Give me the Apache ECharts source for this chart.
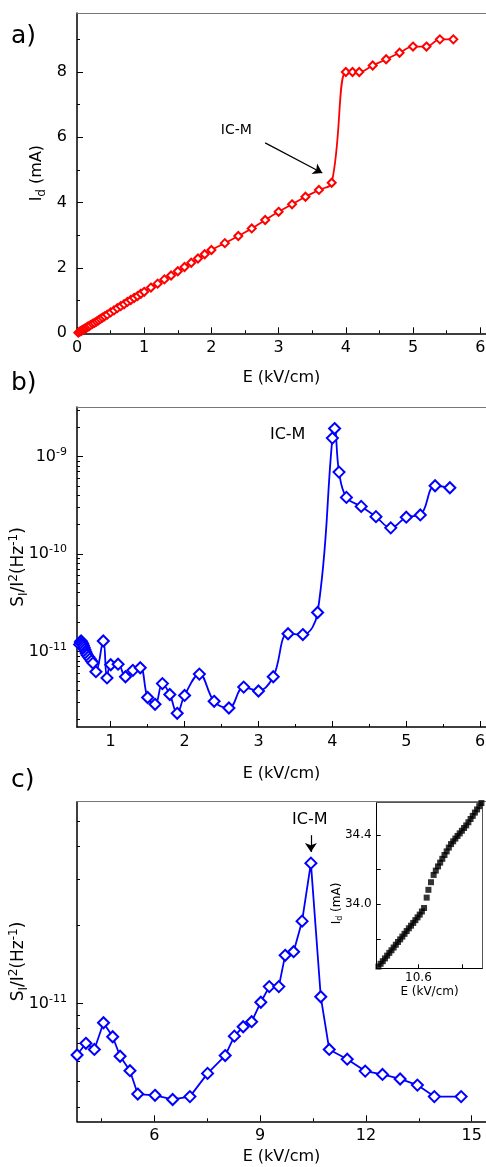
<!DOCTYPE html>
<html><head><meta charset="utf-8">
<script src="https://cdn.jsdelivr.net/npm/echarts@6/dist/echarts.min.js"></script>
<style>html,body{margin:0;padding:0;background:#fff}#c{width:486px;height:1167px}</style>
</head><body><div id="c"></div>
<script>
// ---------- Panel a data: E (kV/cm) vs I_d (mA)
const aE = [0.02,0.04,0.06,0.08,0.10,0.12,0.14,0.16,0.18,0.20,0.23,0.26,0.29,0.32,0.35,0.38,0.41,0.45,0.50,0.55,0.60,0.65,0.70,0.75,0.80,0.85,0.90,0.95,1.00,1.10,1.20,1.30,1.40,1.50,1.60,1.70,1.80,1.90,2.00,2.20,2.40,2.60,2.80,3.00,3.20,3.40,3.60,3.79,4.00,4.10,4.20,4.40,4.60,4.80,5.00,5.20,5.40,5.60];
const aI = [0.02,0.05,0.07,0.10,0.12,0.15,0.17,0.20,0.22,0.25,0.29,0.32,0.36,0.40,0.44,0.48,0.52,0.57,0.64,0.70,0.77,0.83,0.89,0.96,1.02,1.08,1.14,1.21,1.27,1.40,1.52,1.65,1.77,1.90,2.03,2.16,2.29,2.42,2.55,2.76,2.98,3.21,3.47,3.72,3.95,4.18,4.39,4.61,8.00,8.00,8.00,8.20,8.39,8.59,8.78,8.78,9.00,9.00];
// ---------- Panel b data: E vs S_I/I^2
const bE = [0.58,0.59,0.60,0.61,0.62,0.63,0.64,0.65,0.66,0.67,0.68,0.70,0.72,0.74,0.76,0.80,0.90,0.95,1.00,1.10,1.20,1.30,1.40,1.50,1.60,1.70,1.80,1.90,2.00,2.20,2.40,2.60,2.80,3.00,3.20,3.40,3.60,3.80,4.00,4.03,4.09,4.19,4.39,4.59,4.79,5.00,5.19,5.39,5.59];
const bS = [1.18e-11,1.25e-11,1.28e-11,1.24e-11,1.20e-11,1.15e-11,1.10e-11,1.05e-11,1.00e-11,9.6e-12,9.2e-12,8.8e-12,8.4e-12,8.0e-12,7.6e-12,6.2e-12,1.28e-11,5.35e-12,7.3e-12,7.4e-12,5.5e-12,6.4e-12,6.8e-12,3.37e-12,2.87e-12,4.68e-12,3.62e-12,2.32e-12,3.54e-12,5.86e-12,3.08e-12,2.63e-12,4.31e-12,3.93e-12,5.5e-12,1.52e-11,1.49e-11,2.51e-11,1.54e-9,1.93e-9,6.9e-10,3.8e-10,3.07e-10,2.41e-10,1.85e-10,2.38e-10,2.51e-10,5.0e-10,4.77e-10];
// ---------- Panel c data
const cE = [3.81,4.06,4.30,4.56,4.82,5.03,5.31,5.53,6.02,6.52,7.01,7.51,8.01,8.27,8.52,8.76,9.02,9.26,9.53,9.71,9.95,10.19,10.44,10.72,10.96,11.47,11.98,12.47,12.97,13.46,13.94,14.70];
const cS = [6.33e-12,7.02e-12,6.65e-12,8.42e-12,7.44e-12,6.26e-12,5.51e-12,4.48e-12,4.43e-12,4.27e-12,4.38e-12,5.38e-12,6.3e-12,7.48e-12,8.13e-12,8.5e-12,1.01e-11,1.16e-11,1.16e-11,1.53e-11,1.58e-11,2.07e-11,3.46e-11,1.06e-11,6.65e-12,6.1e-12,5.49e-12,5.33e-12,5.12e-12,4.85e-12,4.38e-12,4.38e-12];
// ---------- Inset data (panel c)
const insE = [10.508,10.513,10.518,10.523,10.528,10.533,10.538,10.543,10.548,10.553,10.558,10.563,10.568,10.573,10.578,10.583,10.588,10.593,10.598,10.603,10.608,10.613,10.619,10.623,10.629,10.635,10.640,10.645,10.650,10.655,10.660,10.665,10.670,10.675,10.680,10.685,10.690,10.695,10.700,10.705,10.710,10.715,10.720,10.725,10.730,10.735,10.740,10.745];
const insI = [33.640,33.656,33.671,33.687,33.703,33.719,33.734,33.750,33.766,33.782,33.797,33.813,33.829,33.845,33.861,33.876,33.892,33.908,33.924,33.940,33.958,33.978,34.038,34.083,34.127,34.169,34.194,34.218,34.240,34.262,34.284,34.305,34.327,34.347,34.363,34.379,34.394,34.409,34.424,34.440,34.455,34.473,34.492,34.510,34.529,34.547,34.566,34.584];
// ---------- Tick values
const aXMajor = [0,1,2,3,4,5,6];
const aXMinor = [0.5,1.5,2.5,3.5,4.5,5.5];
const aYMajor = [0,2,4,6,8];
const aYMinor = [1,3,5,7,9];
const bXMajor = [1,2,3,4,5,6];
const bXMinor = [1.5,2.5,3.5,4.5,5.5];
const cXMajor = [6,9,12,15];
const cXMinor = [4.5,7.5,10.5,13.5];
const logMajor = [1e-12,1e-11,1e-10,1e-9];
const logMinor = [2e-12,3e-12,4e-12,5e-12,6e-12,7e-12,8e-12,9e-12,2e-11,3e-11,4e-11,5e-11,6e-11,7e-11,8e-11,9e-11,2e-10,3e-10,4e-10,5e-10,6e-10,7e-10,8e-10,9e-10,2e-9,3e-9];
const insXLabels = [10.6];
const insXTicks = [10.6,10.7];
const insYLabels = [34.0,34.4];
const insYTicks = [33.8,34.0,34.2,34.4];

const F = 'DejaVu Sans';
const pairs = (xs, ys) => xs.map((x, i) => [x, ys[i]]);
const lbl = {color:'#000', fontFamily:F, fontSize:16};
const supRich = {
  sup:{fontFamily:F, fontSize:11, color:'#000', padding:[0,0,9,0]},
  sub:{fontFamily:F, fontSize:11, color:'#000', padding:[9,0,0,0]}
};
const nameRich = {
  sup:{fontFamily:F, fontSize:12, color:'#000', padding:[0,0,10,0]},
  sub:{fontFamily:F, fontSize:12, color:'#000', padding:[10,0,0,0]}
};
const logFmt = v => '10{sup|' + Math.round(Math.log10(v)) + '}';

function xSet(grid, min, max, major, minor, nameGap, type) {
  type = type || 'value';
  return [
    {type, gridIndex:grid, position:'bottom', min, max, name:'E (kV/cm)', nameLocation:'middle', nameGap, nameMoveOverlap:false,
     nameTextStyle:Object.assign({}, lbl),
     axisLine:{show:true, onZero:false, lineStyle:{color:'#000', width:1.5}},
     axisTick:{show:true, inside:true, length:6, customValues:major, lineStyle:{color:'#000', width:1}},
     axisLabel:Object.assign({customValues:major, margin:7}, lbl), splitLine:{show:false}},
    {type, gridIndex:grid, position:'bottom', min, max,
     axisLine:{show:false}, axisTick:{show:true, inside:true, length:3, customValues:minor, lineStyle:{color:'#000', width:1}},
     axisLabel:{show:false}, splitLine:{show:false}},
    {type, gridIndex:grid, position:'top', min, max,
     axisLine:{show:true, onZero:false, lineStyle:{color:'#777', width:1.2}}, axisTick:{show:false},
     axisLabel:{show:false}, splitLine:{show:false}}
  ];
}
function ySet(grid, type, min, max, major, minor, name, nameGap, fmt, nameSize) {
  return [
    {type, gridIndex:grid, position:'left', min, max, name, nameLocation:'middle', nameGap, nameMoveOverlap:false,
     nameTextStyle:{color:'#000', fontFamily:F, fontSize:nameSize, rich:nameRich},
     axisLine:{show:true, onZero:false, lineStyle:{color:'#000', width:1.5}},
     axisTick:{show:true, inside:true, length:6, customValues:major, lineStyle:{color:'#000', width:1}},
     axisLabel:Object.assign({customValues:major, margin:10, formatter:fmt, rich:supRich}, lbl), splitLine:{show:false}},
    {type, gridIndex:grid, position:'left', min, max,
     axisLine:{show:false}, axisTick:{show:true, inside:true, length:3, customValues:minor, lineStyle:{color:'#000', width:1}},
     axisLabel:{show:false}, splitLine:{show:false}}
  ];
}

const SYNAME = 'S{sub|I}/I{sup|2}(Hz{sup|-1})';

const xAxis = [].concat(
  xSet(0, 0, 6.086, aXMajor, aXMinor, 37),
  xSet(1, 0.544, 6.079, bXMajor, bXMinor, 39),
  xSet(2, 3.808, 15.405, cXMajor, cXMinor, 28),
  [
    {type:'value', gridIndex:3, position:'bottom', min:10.504, max:10.747, name:'E (kV/cm)', nameLocation:'middle', nameGap:18, nameMoveOverlap:false,
     nameTextStyle:{color:'#000', fontFamily:F, fontSize:12},
     axisLine:{show:true, onZero:false, lineStyle:{color:'#000', width:1}},
     axisTick:{show:true, inside:true, length:4, customValues:insXTicks, lineStyle:{color:'#000'}},
     axisLabel:{customValues:insXLabels, margin:4, color:'#000', fontFamily:F, fontSize:12, formatter:v=>v.toFixed(1)}, splitLine:{show:false}},
    {type:'value', gridIndex:3, position:'top', min:10.504, max:10.747,
     axisLine:{show:true, onZero:false, lineStyle:{color:'#555', width:1}}, axisTick:{show:false}, axisLabel:{show:false}, splitLine:{show:false}}
  ]
);
const yAxis = [].concat(
  ySet(0, 'value', 0, 9.807, aYMajor, aYMinor, 'I{sub|d} (mA)', 29, v => String(v), 16),
  ySet(1, 'log', 1.68e-12, 3.21e-9, logMajor, logMinor, SYNAME, 47, logFmt, 17),
  ySet(2, 'log', 3.52e-12, 5.96e-11, logMajor, logMinor, SYNAME, 47, logFmt, 17),
  [
    {type:'value', gridIndex:3, position:'left', min:33.63, max:34.586, name:'I{sub|d} (mA)', nameLocation:'middle', nameGap:33, nameMoveOverlap:false,
     nameTextStyle:{color:'#000', fontFamily:F, fontSize:12, padding:[0,36,0,0], rich:{sub:{fontFamily:F, fontSize:8, color:'#000', padding:[6,0,0,0]}}},
     axisLine:{show:true, onZero:false, lineStyle:{color:'#000', width:1}},
     axisTick:{show:true, inside:true, length:4, customValues:insYTicks, lineStyle:{color:'#000'}},
     axisLabel:{customValues:insYLabels, margin:5, color:'#000', fontFamily:F, fontSize:12, formatter:v=>v.toFixed(1)}, splitLine:{show:false}},
    {type:'value', gridIndex:3, position:'right', min:33.63, max:34.586,
     axisLine:{show:true, onZero:false, lineStyle:{color:'#555', width:1}}, axisTick:{show:false}, axisLabel:{show:false}, splitLine:{show:false}}
  ]
);

const annText = (coord, size) => ({
  symbol:'circle', symbolSize:1, itemStyle:{color:'rgba(0,0,0,0)'}, silent:true,
  label:{show:true, position:'inside', color:'#000', fontFamily:F, fontSize:size, formatter:'IC-M'},
  data:[{coord}]
});
const arrow = (from, to) => ({
  silent:true, symbol:['none','arrow'], symbolSize:9, label:{show:false},
  lineStyle:{color:'#000', width:1.2, type:'solid'},
  data:[[{coord:from},{coord:to}]]
});

const gridBase = {outerBoundsMode:'none', containLabel:false};
const option = {
  animation:false,
  backgroundColor:'#fff',
  grid:[
    Object.assign({left:77, top:13, width:409, height:320.3}, gridBase),
    Object.assign({left:77, top:407, width:409, height:320}, gridBase),
    Object.assign({left:77, top:801.7, width:409, height:319.6}, gridBase),
    Object.assign({left:376.7, top:802.7, width:105.6, height:165.6}, gridBase)
  ],
  xAxis, yAxis,
  graphic:[
    {type:'text', left:11, top:24, style:{text:'a)', font:'25px "DejaVu Sans"', fill:'#000'}},
    {type:'text', left:11, top:371, style:{text:'b)', font:'25px "DejaVu Sans"', fill:'#000'}},
    {type:'text', left:11, top:768, style:{text:'c)', font:'25px "DejaVu Sans"', fill:'#000'}}
  ],
  series:[
    {type:'line', xAxisIndex:0, yAxisIndex:0, data:pairs(aE, aI), smooth:0.4,
     symbol:'emptyDiamond', symbolSize:8, lineStyle:{color:'#ff0000', width:1.8},
     itemStyle:{color:'#ff0000', borderColor:'#ff0000', borderWidth:1.5},
     markPoint:annText([2.37, 6.2], 14), markLine:arrow([2.8, 5.83], [3.65, 4.91])},
    {type:'line', xAxisIndex:3, yAxisIndex:2, data:pairs(bE, bS), smooth:0.4,
     symbol:'emptyDiamond', symbolSize:11, lineStyle:{color:'#0000ff', width:1.8},
     itemStyle:{color:'#0000ff', borderColor:'#0000ff', borderWidth:2},
     markPoint:annText([3.395, 1.68e-9], 16)},
    {type:'line', xAxisIndex:6, yAxisIndex:4, data:pairs(cE, cS),
     symbol:'emptyDiamond', symbolSize:11, lineStyle:{color:'#0000ff', width:1.8},
     itemStyle:{color:'#0000ff', borderColor:'#0000ff', borderWidth:2},
     markPoint:annText([10.41, 5.07e-11], 16), markLine:arrow([10.44, 4.43e-11], [10.44, 3.82e-11])},
    {type:'scatter', xAxisIndex:9, yAxisIndex:6, data:pairs(insE, insI),
     symbol:'rect', symbolSize:6, itemStyle:{color:'#000'}}
  ]
};
const chart = echarts.init(document.getElementById('c'));
chart.setOption(option);
</script></body></html>
